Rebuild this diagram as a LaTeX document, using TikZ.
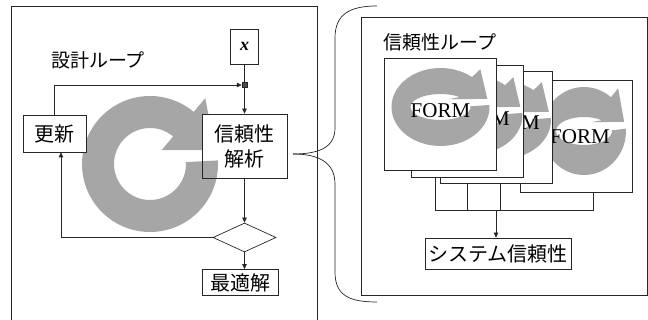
\documentclass[tikz,border=0pt]{standalone}
\usepackage{fontspec}
\setmainfont{Liberation Serif}
\newfontfamily\jp{Noto Sans CJK JP}
\usetikzlibrary{arrows.meta,shapes.geometric}
\pgfdeclarelayer{background}
\pgfsetlayers{background,main}
\tikzset{
 ln/.style={draw=black!85, line width=0.7pt},
 plainbox/.style={ln, fill=white, rectangle, inner sep=0pt},
 jtext/.style={font=\jp\fontsize{20}{25}\selectfont},
 ttl/.style={font=\jp\fontsize{19}{22}\selectfont, inner sep=0pt},
 formbox/.style={plainbox, minimum width=112pt, minimum height=112pt},
 formtext/.style={font=\fontsize{21}{24}\selectfont, inner sep=0pt},
 arr/.style={ln, -{Triangle[length=5pt,width=4.5pt]}},
 garrow/.style={fill=black!35},
}
% circular gray arrow: cx cy Rx Ry rx ry
\newcommand{\gcarrow}[6]{%
 \begin{scope}[shift={(#1,#2)}]
 \fill[garrow] ({#3*cos(-3)},{#4*sin(-3)})
   arc[start angle=-3, end angle=310, x radius=#3, y radius=#4]
   -- ({1.265*#3*cos(310)},{1.265*#4*sin(310)})
   -- ({0.956*#3},{-0.206*#4})
   -- ({0.265*#3*cos(310)},{0.265*#4*sin(310)})
   -- ({#5*cos(310)},{#6*sin(310)})
   arc[start angle=310, end angle=-3, x radius=#5, y radius=#6] -- cycle;
 \end{scope}}
\begin{document}
\begin{tikzpicture}[x=1pt,y=-1pt]
\useasboundingbox (0,0) rectangle (648,320);
% ---------- left: design loop ----------
\draw[ln] (11,324) -- (11,6) -- (317,6) -- (317,324);
\node[ttl] (t1) at (98,60) {設計ループ};
\gcarrow{150}{164}{68}{68}{36}{36}
\node[plainbox, minimum width=28pt, minimum height=35pt, font=\fontsize{18}{20}\selectfont\bfseries\itshape] (xb) at (244.5,46.5) {x};
\node[draw=black!85, fill=black!70, minimum size=5pt, inner sep=0pt] (jn) at (244.5,85) {};
\node[plainbox, jtext, minimum width=63pt, minimum height=37pt] (upd) at (54.5,133.5) {更新};
\node[plainbox, jtext, align=center, minimum width=85pt, minimum height=64pt] (rel) at (244.5,146) {信頼性\\解析};
\begin{scope}
 \clip (203,157) rectangle (286,177.5);
 \gcarrow{150}{164}{68}{68}{36}{36}
\end{scope}
\node[diamond, ln, aspect=2.17, minimum width=63pt, minimum height=29pt, inner sep=0pt] (dia) at (244.5,237.5) {};
\node[plainbox, jtext, minimum width=76pt, minimum height=26pt] (opt) at (240,282.5) {最適解};
\draw[arr] (upd.north) |- (jn.west);
\draw[ln] (xb.south) -- (jn.north);
\draw[arr] (jn.south) -- (rel.north);
\draw[arr] (rel.south) -- (dia.north);
\draw[arr] (dia.south) -- (dia.south |- opt.north);
\draw[arr] (dia.west) -| ([xshift=6.5pt]upd.south);
% ---------- brace ----------
\coordinate (bt) at (293,154);
\draw[ln] (bt) .. controls (318,154) and (335,148) .. (335,128) -- (335,38) .. controls (335,14) and (350,6) .. (377,6);
\draw[ln] (bt) .. controls (318,154) and (335,162) .. (335,184) -- (335,272) .. controls (335,296) and (350,302) .. (377,302);
% ---------- right: reliability loop ----------
\draw[ln] (361,17) rectangle (647,295);
\node[ttl, anchor=west] (t2) at (383,42) {信頼性ループ};
\node[formbox] (f4) at (576,136.5) {};
\gcarrow{584}{131}{42}{44}{28}{14}
\node[formtext] (ft4) at (580,137) {FORM};
\node[formbox] (f3) at (496,127) {};
\gcarrow{502}{120}{49}{39}{30}{13}
\node[formtext] (ft3) at (510,123) {FORM};
\node[formbox] (f2) at (467.5,121.5) {};
\gcarrow{473.5}{115}{49}{39}{30}{13}
\node[formtext] (ft2) at (480,118.5) {FORM};
\node[formbox] (f1) at (440.5,114) {};
\gcarrow{440.5}{107}{49}{39}{30}{13}
\node[formtext] (ft1) at (440.5,111) {FORM};
\coordinate (bus) at (496,210);
\begin{pgfonlayer}{background}
\draw[ln] ([xshift=-5.5pt]f1.south) |- (bus);
\draw[ln] (f2.south) |- (bus);
\draw[ln] ([xshift=4pt]f3.south) |- (bus);
\draw[ln] ([xshift=17pt]f4.south) |- (bus);
\end{pgfonlayer}
\node[plainbox, jtext, minimum width=146pt, minimum height=31pt] (sys) at (498,253.5) {システム信頼性};
\draw[arr] (bus) -- (bus |- sys.north);
\end{tikzpicture}
\end{document}
